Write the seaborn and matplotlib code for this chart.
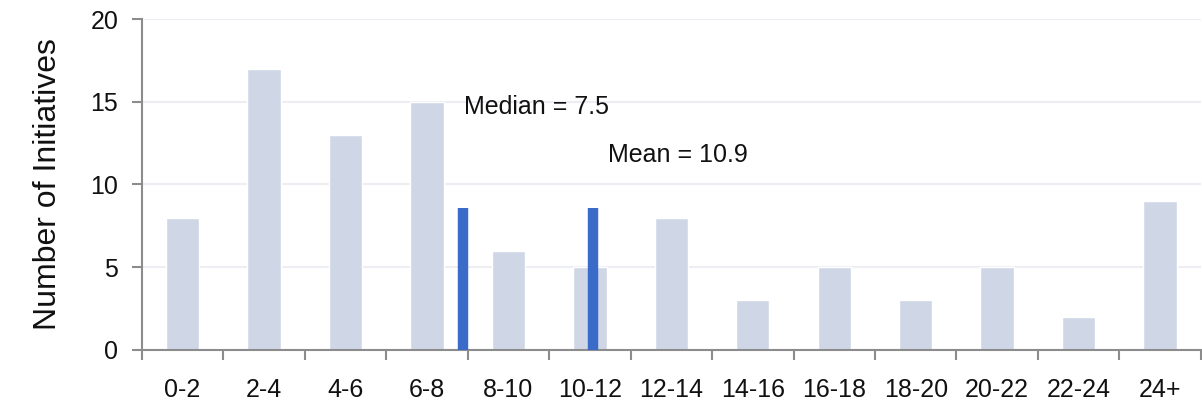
import matplotlib
matplotlib.use("Agg")
import matplotlib.pyplot as plt
import seaborn as sns
from matplotlib.ticker import FixedLocator

# Data
categories = ["0-2", "2-4", "4-6", "6-8", "8-10", "10-12", "12-14",
              "14-16", "16-18", "18-20", "20-22", "22-24", "24+"]
counts = [8, 17, 13, 15, 6, 5, 8, 3, 5, 3, 5, 2, 9]
stat_names = ["Median", "Mean"]
stat_values = [7.5, 10.9]

BAR_COLOR = "#CFD6E6"
LINE_COLOR = "#3A6BC8"
AXIS_COLOR = "#8C8C8C"
GRID_COLOR = "#EDEEF4"
LINE_HEIGHT = 8.6

sns.set_theme(style="white")
plt.rcParams["font.family"] = ["Liberation Sans", "DejaVu Sans"]

fig = plt.figure(figsize=(12.02, 4.05), dpi=100)
ax = fig.add_axes([0.118, 0.136, 0.881, 0.817])

sns.barplot(x=categories, y=counts, color=BAR_COLOR, width=0.41,
            saturation=1, ax=ax, zorder=2)

# map stat value (in months) onto the category axis, roughly as in the source chart
stat_pos = [0.47 * v - 0.085 for v in stat_values]
ax.vlines(stat_pos, 0, LINE_HEIGHT, color=LINE_COLOR, linewidth=7.5, zorder=3)

ax.text(stat_pos[0] + 0.02, 14.7, f"{stat_names[0]} = {stat_values[0]}",
        fontsize=18, ha="left", va="center", color="#111111")
ax.text(stat_pos[1] + 0.18, 11.8, f"{stat_names[1]} = {stat_values[1]}",
        fontsize=18, ha="left", va="center", color="#111111")

ax.set_xlim(-0.5, len(categories) - 0.5)
ax.set_ylim(0, 20)
ax.set_yticks([0, 5, 10, 15, 20])
ax.yaxis.grid(True, color=GRID_COLOR, linewidth=1.5, zorder=0)
ax.set_axisbelow(True)

ax.set_ylabel("Number of Initiatives", fontsize=23, labelpad=20, color="#111111")
ax.set_xlabel("")

ax.xaxis.set_minor_locator(FixedLocator([i - 0.5 for i in range(len(categories) + 1)]))
ax.tick_params(axis="x", which="major", bottom=True, length=0, pad=20,
               labelsize=18, labelcolor="#111111")
ax.tick_params(axis="x", which="minor", bottom=True, length=7, width=1.5,
               color=AXIS_COLOR, direction="out")
ax.tick_params(axis="y", which="major", left=True, length=7, width=1.5, color=AXIS_COLOR,
               direction="out", pad=10, labelsize=18, labelcolor="#111111")

for side in ["top", "right"]:
    ax.spines[side].set_visible(False)
for side in ["left", "bottom"]:
    ax.spines[side].set_color(AXIS_COLOR)
    ax.spines[side].set_linewidth(1.5)

fig.savefig("out.png", dpi=100)
